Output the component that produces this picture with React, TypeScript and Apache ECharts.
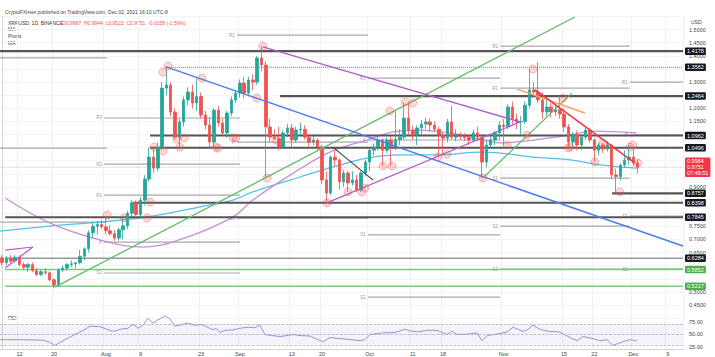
import React, { useEffect, useRef } from 'react';
import * as echarts from 'echarts';

const START = Date.UTC(2021, 6, 8);
const DAY_COUNT = 158;
const dates: string[] = Array.from({ length: DAY_COUNT }, (_, i) =>
  new Date(START + i * 86400000).toISOString().slice(0, 10)
);

const dateTicks: Record<string, string> = {
  '2021-07-12': '12', '2021-07-20': '20', '2021-08-01': 'Aug', '2021-08-09': '9',
  '2021-08-23': '23', '2021-09-01': 'Sep', '2021-09-13': '13', '2021-09-20': '20',
  '2021-10-01': 'Oct', '2021-10-11': '11', '2021-10-18': '18', '2021-11-01': 'Nov',
  '2021-11-15': '15', '2021-11-22': '22', '2021-12-01': 'Dec', '2021-12-09': '9',
};

// [open, close, low, high] Jul 8 .. Dec 2 2021
const ohlc: number[][] = [
  [0.630, 0.612, 0.600, 0.640], [0.612, 0.628, 0.602, 0.636], [0.628, 0.618, 0.610, 0.640], [0.618, 0.632, 0.612, 0.640],
  [0.632, 0.604, 0.598, 0.640], [0.604, 0.594, 0.585, 0.612], [0.594, 0.604, 0.575, 0.610], [0.604, 0.581, 0.575, 0.612],
  [0.581, 0.566, 0.560, 0.592], [0.566, 0.577, 0.560, 0.585], [0.577, 0.573, 0.565, 0.590], [0.573, 0.546, 0.540, 0.578],
  [0.546, 0.526, 0.514, 0.552], [0.526, 0.583, 0.520, 0.590], [0.583, 0.591, 0.575, 0.600], [0.591, 0.604, 0.582, 0.610],
  [0.604, 0.607, 0.595, 0.620], [0.607, 0.611, 0.590, 0.615], [0.611, 0.636, 0.605, 0.660], [0.636, 0.664, 0.620, 0.670],
  [0.664, 0.725, 0.650, 0.735], [0.725, 0.750, 0.705, 0.765], [0.750, 0.757, 0.720, 0.770], [0.757, 0.748, 0.740, 0.775],
  [0.748, 0.733, 0.720, 0.790], [0.733, 0.722, 0.715, 0.755], [0.722, 0.705, 0.695, 0.735], [0.705, 0.737, 0.695, 0.745],
  [0.737, 0.752, 0.700, 0.782], [0.752, 0.800, 0.740, 0.810], [0.800, 0.840, 0.785, 0.850], [0.840, 0.795, 0.782, 0.848],
  [0.795, 0.850, 0.782, 0.862], [0.850, 0.930, 0.830, 0.945], [0.930, 1.014, 0.920, 1.050], [1.014, 0.972, 0.955, 1.050],
  [0.972, 1.052, 0.960, 1.070], [1.052, 1.277, 1.040, 1.300], [1.277, 1.289, 1.250, 1.361], [1.289, 1.186, 1.170, 1.300],
  [1.186, 1.090, 1.080, 1.200], [1.090, 1.148, 1.050, 1.160], [1.148, 1.232, 1.130, 1.245], [1.232, 1.262, 1.210, 1.280],
  [1.262, 1.220, 1.200, 1.290], [1.220, 1.245, 1.190, 1.315], [1.245, 1.174, 1.160, 1.260], [1.174, 1.136, 1.120, 1.190],
  [1.136, 1.071, 1.052, 1.167], [1.071, 1.193, 1.048, 1.200], [1.193, 1.144, 1.130, 1.210], [1.144, 1.106, 1.095, 1.160],
  [1.106, 1.182, 1.087, 1.190], [1.182, 1.232, 1.170, 1.245], [1.232, 1.258, 1.220, 1.270], [1.258, 1.296, 1.240, 1.310],
  [1.296, 1.258, 1.239, 1.320], [1.258, 1.308, 1.245, 1.320], [1.308, 1.300, 1.270, 1.330], [1.300, 1.392, 1.290, 1.400],
  [1.392, 1.365, 1.340, 1.437], [1.365, 1.129, 0.934, 1.380], [1.129, 1.090, 1.070, 1.160], [1.090, 1.085, 1.079, 1.120],
  [1.085, 1.052, 1.040, 1.130], [1.052, 1.106, 1.045, 1.115], [1.106, 1.125, 1.090, 1.140], [1.125, 1.079, 1.050, 1.140],
  [1.079, 1.117, 1.070, 1.130], [1.117, 1.120, 1.100, 1.145], [1.120, 1.090, 1.080, 1.135], [1.090, 1.071, 1.055, 1.100],
  [1.071, 1.079, 1.060, 1.095], [1.079, 1.052, 1.040, 1.085], [1.052, 0.927, 0.910, 1.060], [0.927, 0.877, 0.839, 0.960],
  [0.877, 1.014, 0.870, 1.020], [1.014, 1.003, 0.980, 1.040], [1.003, 0.920, 0.890, 1.010], [0.920, 0.953, 0.900, 0.965],
  [0.953, 0.915, 0.881, 0.960], [0.915, 0.927, 0.905, 0.960], [0.927, 0.888, 0.881, 0.945], [0.888, 0.953, 0.881, 0.960],
  [0.953, 0.995, 0.940, 1.005], [0.995, 1.040, 0.960, 1.050], [1.040, 1.052, 1.020, 1.065], [1.052, 1.079, 1.040, 1.090],
  [1.079, 1.040, 0.980, 1.085], [1.040, 1.079, 1.030, 1.090], [1.079, 1.052, 0.980, 1.095], [1.052, 1.080, 1.040, 1.190],
  [1.080, 1.090, 1.060, 1.120], [1.090, 1.163, 1.080, 1.224], [1.163, 1.117, 1.100, 1.220], [1.117, 1.098, 1.080, 1.135],
  [1.098, 1.125, 1.060, 1.135], [1.125, 1.140, 1.100, 1.155], [1.140, 1.148, 1.120, 1.165], [1.148, 1.136, 1.110, 1.160],
  [1.136, 1.120, 1.110, 1.150], [1.120, 1.098, 1.014, 1.130], [1.098, 1.086, 1.025, 1.110], [1.086, 1.148, 1.070, 1.160],
  [1.148, 1.090, 1.080, 1.210], [1.090, 1.095, 1.075, 1.120], [1.095, 1.092, 1.080, 1.110], [1.092, 1.088, 1.075, 1.105],
  [1.088, 1.079, 1.060, 1.100], [1.079, 1.106, 1.070, 1.120], [1.106, 1.090, 1.075, 1.130], [1.090, 0.995, 0.934, 1.100],
  [0.995, 1.060, 0.975, 1.075], [1.060, 1.079, 1.045, 1.095], [1.079, 1.106, 1.060, 1.115], [1.106, 1.136, 1.080, 1.150],
  [1.136, 1.130, 1.060, 1.160], [1.130, 1.205, 1.120, 1.215], [1.205, 1.159, 1.140, 1.225], [1.159, 1.148, 1.120, 1.180],
  [1.148, 1.150, 1.098, 1.170], [1.150, 1.212, 1.140, 1.225], [1.212, 1.270, 1.200, 1.350], [1.270, 1.262, 1.240, 1.300],
  [1.262, 1.232, 1.220, 1.376], [1.232, 1.186, 1.160, 1.260], [1.186, 1.205, 1.170, 1.230], [1.205, 1.186, 1.165, 1.220],
  [1.186, 1.195, 1.170, 1.210], [1.195, 1.178, 1.160, 1.239], [1.178, 1.129, 1.110, 1.200], [1.129, 1.071, 1.049, 1.140],
  [1.071, 1.098, 1.055, 1.110], [1.098, 1.060, 1.040, 1.115], [1.060, 1.090, 1.040, 1.100], [1.090, 1.117, 1.080, 1.125],
  [1.117, 1.079, 1.070, 1.125], [1.079, 1.040, 0.995, 1.085], [1.040, 1.060, 1.020, 1.070], [1.060, 1.045, 1.030, 1.068],
  [1.045, 1.060, 1.035, 1.075], [1.060, 0.946, 0.930, 1.065], [0.946, 0.940, 0.881, 0.970], [0.940, 0.984, 0.925, 0.990],
  [0.984, 1.003, 0.975, 1.040], [1.003, 1.014, 0.985, 1.060], [1.014, 0.991, 0.980, 1.052], [0.991, 0.975, 0.952, 1.005],
];

// moving averages: [dayIndex, price]
const maCyan: number[][] = [
  [-0.5, 0.732], [11, 0.751], [22.6, 0.766], [33.5, 0.786], [45.8, 0.824], [53.4, 0.85], [58, 0.881],
  [68.9, 0.938], [78.2, 0.984], [84.4, 1.01], [92, 1.022], [99.7, 1.022], [111.2, 1.033], [122.8, 1.014],
  [131.4, 1.003], [138.3, 0.984], [146.8, 0.972],
];
const maPurple: number[][] = [
  [0.7, 0.858], [11, 0.763], [22.6, 0.698], [32.6, 0.671], [42.8, 0.709], [53.4, 0.786], [58, 0.85],
  [66.6, 0.945], [75.8, 1.033], [84.4, 1.079], [90.4, 1.11], [96, 1.117], [103.6, 1.106], [111.2, 1.079],
  [115.2, 1.068], [122.8, 1.079], [131.4, 1.098], [136.7, 1.113], [146.8, 1.106],
];

// trend lines: [[i0, p0], [i1, p1]]
const trendLines: { pts: number[][]; color: string; width: number }[] = [
  { pts: [[12.2, 0.518], [132.5, 1.548]], color: '#66bb6a', width: 1.3 },
  { pts: [[38.1, 1.357], [157.5, 0.675]], color: '#4f7ef0', width: 1.5 },
  { pts: [[60.3, 1.434], [119.8, 1.148]], color: '#b35ccc', width: 1.3 },
  { pts: [[75.1, 0.839], [119.8, 1.148]], color: '#b35ccc', width: 1.3 },
  { pts: [[76.5, 1.052], [85.8, 0.926]], color: '#444444', width: 1.2 },
  { pts: [[111.2, 0.934], [131.8, 1.258]], color: '#66bb6a', width: 1.2 },
  { pts: [[119.1, 1.273], [134.8, 1.182]], color: '#f7a35c', width: 1.5 },
  { pts: [[123.3, 1.27], [146.4, 0.991]], color: '#f23645', width: 1.6 },
  { pts: [[0.7, 0.659], [7.1, 0.671]], color: '#b35ccc', width: 1.2 },
  { pts: [[0.7, 0.591], [7.1, 0.671]], color: '#b35ccc', width: 1.2 },
];

// horizontal levels: start index, price, kind
const levelStart = [-0.5, 37.7, 64.3, 34.2, 34.2, 141.1, 30.3, 0.7, 0.7, 0.7, 0.7];
const levelPrice = [1.4178, 1.3562, 1.2464, 1.0962, 1.0496, 0.8757, 0.8398, 0.7845, 0.6284, 0.5852, 0.5217];
const levelKind = ['dark', 'dot', 'dark', 'dark', 'dark', 'dark', 'dark', 'dark', 'thin', 'green', 'green'];

// monthly pivot points: start index, end index, price, label
const pivotStart = [-0.5, -0.5, -0.5, 23.6, 23.6, 23.6, 23.6, 23.6, 54.3, 54.3, 54.3, 84.6, 84.6, 84.6, 84.6,
  115.2, 115.2, 115.2, 115.2, 115.2, 145.2, 145.2, 145.2, 145.2];
const pivotEnd = [24.2, 24.2, 24.2, 55, 55, 55, 55, 55, 84.6, 84.6, 84.6, 115.2, 115.2, 115.2, 115.2,
  145.2, 145.2, 145.2, 145.2, 145.2, 157.5, 157.5, 157.5, 157.5];
const pivotPrice = [1.392, 1.048, 0.766, 1.163, 0.987, 0.869, 0.69, 0.572, 1.479, 1.071, 0.781, 1.315, 1.079, 0.717, 0.48,
  1.437, 1.277, 0.934, 0.751, 0.587, 1.3, 1.098, 0.789, 0.587];
const pivotLabel = ['', '', '', 'R3', 'R2', 'R1', 'P', 'S1', 'R1', 'P', 'S1', 'R1', 'P', 'S1', 'S2',
  'R2', 'R1', 'S1', 'S2', 'S3', 'R1', 'P', 'S1', 'S2'];

const circles: number[][] = [
  [37.2, 1.338], [38.4, 1.361], [46.2, 1.315], [40.4, 1.083], [42.1, 1.087], [41.1, 1.052], [35.1, 1.052],
  [37.2, 1.037], [49.5, 1.052], [49.9, 1.048], [53.4, 1.087], [54.1, 1.087], [58.9, 1.239], [61.3, 0.934],
  [63.3, 1.079], [60.3, 1.437], [75.1, 0.839], [80, 0.881], [83.2, 0.881], [83.9, 0.896], [88.1, 0.98],
  [90.2, 0.98], [89.7, 1.19], [93.2, 1.224], [95, 1.22], [100.8, 1.014], [102.9, 1.025], [111.2, 0.934],
  [116.8, 1.06], [121.4, 1.098], [122.8, 1.35], [130.9, 1.049], [131.4, 1.052], [137.1, 0.995], [139, 1.068],
  [142.9, 0.881], [145.2, 1.052], [145.9, 1.06], [147.1, 0.991], [129.7, 1.239], [24.3, 0.793], [28.2, 0.782],
  [33.5, 0.782], [34.2, 0.843],
];

const rsi: number[][] = [
  [-0.5, 40], [4.6, 40], [9.4, 39], [11, 35], [12.2, 29], [14.5, 40], [16.8, 50], [19.2, 60], [20.3, 66],
  [22.6, 65], [24.3, 60], [25.6, 56], [27.3, 60], [29.1, 62], [30.3, 70], [31.4, 62], [32.6, 68], [33.7, 81],
  [34.9, 72], [36, 78], [37.7, 86], [38.8, 80], [40, 66], [41.1, 68], [42.8, 72], [44.6, 68], [46.2, 69],
  [48.8, 59], [49.5, 62], [50.4, 54], [51.5, 58], [53.4, 59], [55, 62], [56.9, 64], [58.5, 63], [59.6, 68],
  [60.8, 50], [62.4, 48], [64.3, 46], [65.9, 48], [67.3, 50], [68.9, 48], [71.2, 47], [73.1, 40], [74.2, 36],
  [75.8, 44], [78.2, 42], [79.8, 41], [82.8, 38], [83.9, 40], [85.1, 50], [88.1, 53], [90.9, 54], [93.2, 60],
  [94.3, 57], [96, 55], [98.3, 58], [100.6, 58], [102.9, 50], [104.1, 56], [105.2, 50], [108.2, 51], [109.8, 53],
  [111, 38], [112.2, 48], [115.2, 52], [116.8, 55], [118.2, 64], [120.5, 56], [121.6, 60], [122.8, 68],
  [124.4, 60], [126.3, 56], [129, 55], [131.4, 44], [133, 38], [134.4, 46], [136.7, 42], [138.3, 38],
  [139.9, 40], [141.3, 29], [143.6, 36], [145.2, 40], [146.8, 38],
];

const priceTicks = [0.45, 0.5, 0.65, 0.7, 0.75, 0.9, 1.15, 1.2, 1.3, 1.4, 1.45, 1.5];
const rsiTicks = [25, 50, 75];
const lastClose = 0.9751;
const lastBoxLines = ['0.9964', '0.9751', '07:49:51'];

const FONT = 'Liberation Sans';

export default function App() {
  const ref = useRef<HTMLDivElement>(null);
  useEffect(() => {
    if (!ref.current) return;
    const chart = echarts.init(ref.current, undefined, { renderer: 'svg' });
    const X_MAX = DAY_COUNT - 0.5;
    const isTick = (idx: number) => dateTicks[dates[idx]] !== undefined;

    const levelSeries = levelPrice.map((p, k) => {
      const kind = levelKind[k];
      const color = kind === 'green' ? '#81c784' : kind === 'thin' ? '#666' : kind === 'dot' ? '#777' : '#555';
      const boxBg = kind === 'green' ? '#4caf50' : '#131722';
      return {
        type: 'line', xAxisIndex: 1, yAxisIndex: 0, symbol: 'none', silent: true, z: 3,
        data: [[levelStart[k], p], [X_MAX, p]],
        lineStyle: { color, width: kind === 'thin' ? 1 : kind === 'dot' ? 1 : kind === 'green' ? 1.4 : 2.2, type: kind === 'dot' ? 'dotted' : 'solid' },
        endLabel: {
          show: true, formatter: p.toFixed(4), backgroundColor: boxBg, color: '#fff', fontSize: 5.5,
          fontFamily: FONT, padding: [1, 2, 0.5, 2], borderRadius: 1, distance: 2,
        },
      };
    });

    const pivotSeries = pivotPrice.map((p, k) => ({
      type: 'line', xAxisIndex: 1, yAxisIndex: 0, symbol: 'none', silent: true, z: 2,
      data: [[pivotStart[k], p], [pivotEnd[k], p]],
      lineStyle: {
        color: pivotLabel[k] === 'S2' && pivotStart[k] > 140 ? '#5e9a5e' : '#a8a8a8',
        width: 1.2,
      },
    }));

    const option: any = {
      animation: false,
      backgroundColor: '#ffffff',
      textStyle: { fontFamily: FONT },
      grid: [
        { left: 0, right: 32, top: 16.5, height: 301.6 },
        { left: 0, right: 32, top: 313, height: 37 },
      ],
      xAxis: [
        {
          type: 'category', gridIndex: 0, data: dates, boundaryGap: true,
          axisLine: { show: false }, axisTick: { show: false }, axisLabel: { show: false },
          splitLine: { show: true, interval: (i: number) => isTick(i), lineStyle: { color: '#f0f1f4', width: 1 } },
        },
        { type: 'value', gridIndex: 0, min: -0.5, max: X_MAX, show: false },
        {
          type: 'category', gridIndex: 1, data: dates, boundaryGap: true,
          axisLine: { show: true, lineStyle: { color: '#d6d6d6' } }, axisTick: { show: false },
          axisLabel: {
            interval: (i: number) => isTick(i), formatter: (v: string) => dateTicks[v] || '',
            fontSize: 5.5, color: '#444', margin: 2, fontFamily: FONT,
          },
          splitLine: { show: true, interval: (i: number) => isTick(i), lineStyle: { color: '#f0f1f4', width: 1 } },
        },
        { type: 'value', gridIndex: 1, min: -0.5, max: X_MAX, show: false },
      ],
      yAxis: [
        {
          type: 'value', gridIndex: 0, position: 'right', min: 0.4, max: 1.55, interval: 0.05,
          axisLine: { show: true, lineStyle: { color: '#d6d6d6' } }, axisTick: { show: false },
          axisLabel: {
            customValues: priceTicks, formatter: (v: number) => v.toFixed(4),
            fontSize: 5.5, color: '#444', margin: 6, fontFamily: FONT,
          },
          splitLine: { show: true, lineStyle: { color: '#f3f4f6', width: 1 } },
        },
        {
          type: 'value', gridIndex: 1, position: 'right', min: 22, max: 91.5,
          axisLine: { show: true, lineStyle: { color: '#d6d6d6' } }, axisTick: { show: false },
          axisLabel: {
            customValues: rsiTicks, formatter: (v: number) => v.toFixed(2),
            fontSize: 5.5, color: '#444', margin: 6, fontFamily: FONT,
          },
          splitLine: { show: false },
        },
      ],
      series: [
        {
          type: 'line', xAxisIndex: 1, yAxisIndex: 0, symbol: 'none', silent: true, z: 1,
          data: [[-0.5, lastClose], [X_MAX, lastClose]],
          lineStyle: { color: '#f7a0a0', width: 0.8, type: 'dotted' },
        },
        ...pivotSeries,
        {
          type: 'scatter', xAxisIndex: 1, yAxisIndex: 0, symbolSize: 0.1, silent: true, z: 2,
          data: pivotPrice.map((p, k) => ({ value: [pivotStart[k], p], name: pivotLabel[k] })).filter((d) => d.name),
          itemStyle: { color: 'rgba(0,0,0,0)' },
          label: { show: true, position: 'left', distance: 2, formatter: '{b}', fontSize: 4.5, color: '#777', fontFamily: FONT },
        },
        {
          type: 'line', xAxisIndex: 1, yAxisIndex: 0, symbol: 'none', smooth: 0.4, silent: true, z: 2,
          data: maCyan, lineStyle: { color: '#4fc3e8', width: 1.3 },
        },
        {
          type: 'line', xAxisIndex: 1, yAxisIndex: 0, symbol: 'none', smooth: 0.4, silent: true, z: 2,
          data: maPurple, lineStyle: { color: '#c98ddd', width: 1.3 },
        },
        ...levelSeries,
        {
          type: 'candlestick', xAxisIndex: 0, yAxisIndex: 0, barWidth: 3, z: 4,
          data: ohlc,
          itemStyle: { color: '#26a69a', color0: '#ef5350', borderColor: '#26a69a', borderColor0: '#ef5350', borderWidth: 0.8 },
        },
        ...trendLines.map((t) => ({
          type: 'line', xAxisIndex: 1, yAxisIndex: 0, symbol: 'none', silent: true, z: 5,
          data: t.pts, lineStyle: { color: t.color, width: t.width },
        })),
        {
          type: 'scatter', xAxisIndex: 1, yAxisIndex: 0, symbolSize: 8, silent: true, z: 6,
          data: circles,
          itemStyle: { color: 'rgba(239,83,80,0.28)', borderColor: 'rgba(239,83,80,0.6)', borderWidth: 0.8 },
        },
        {
          type: 'line', xAxisIndex: 1, yAxisIndex: 0, symbol: 'none', silent: true, z: 7,
          data: [[X_MAX - 0.01, lastClose], [X_MAX, lastClose]], lineStyle: { opacity: 0 },
          endLabel: {
            show: true, formatter: lastBoxLines.join('\n'), backgroundColor: '#f23645', color: '#fff', fontSize: 5.5,
            lineHeight: 5.8, fontFamily: FONT, padding: [1.5, 2, 0.5, 2], borderRadius: 1, distance: 2,
          },
        },
        {
          type: 'line', xAxisIndex: 3, yAxisIndex: 1, symbol: 'none', silent: true,
          data: rsi, lineStyle: { color: '#a58bd9', width: 1 },
          markArea: {
            silent: true, itemStyle: { color: 'rgba(126,87,194,0.08)' },
            data: [[{ yAxis: 30 }, { yAxis: 70 }]],
          },
          markLine: {
            silent: true, symbol: 'none', label: { show: false },
            lineStyle: { color: '#aaa', width: 0.7, type: 'dashed' },
            data: [{ yAxis: 70 }, { yAxis: 50 }, { yAxis: 30 }],
          },
        },
      ],
      graphic: [
        { type: 'text', left: 5, top: 9, style: { text: 'CryptoFXtreet published on TradingView.com, Dec 02, 2021 16:10 UTC-8', fontSize: 5, fill: '#444', fontFamily: FONT } },
        { type: 'text', left: 8, top: 20, style: { text: 'XRPUSD, 1D, BINANCE', fontSize: 5, fill: '#333', fontFamily: FONT } },
        { type: 'text', left: 62, top: 20, style: { text: 'O0.9987  H0.9944  L0.9522  C0.9751  -0.0158 (-1.59%)', fontSize: 5, fill: '#ef5350', fontFamily: FONT } },
        { type: 'text', left: 8, top: 26.5, style: { text: 'MA', fontSize: 5, fill: '#444', fontFamily: FONT } },
        { type: 'text', left: 8, top: 33, style: { text: 'Pivots', fontSize: 5, fill: '#444', fontFamily: FONT } },
        { type: 'text', left: 8, top: 40, style: { text: 'MA', fontSize: 5, fill: '#444', fontFamily: FONT } },
        { type: 'text', left: 8, top: 315, style: { text: 'RSI', fontSize: 5, fill: '#444', fontFamily: FONT } },
        { type: 'text', left: 691, top: 19, style: { text: 'USD', fontSize: 5, fill: '#444', fontFamily: FONT } },
      ],
    };
    chart.setOption(option);
    return () => chart.dispose();
  }, []);
  return <div ref={ref} style={{ position: 'fixed', left: 0, top: 0, width: 715, height: 357 }} />;
}
